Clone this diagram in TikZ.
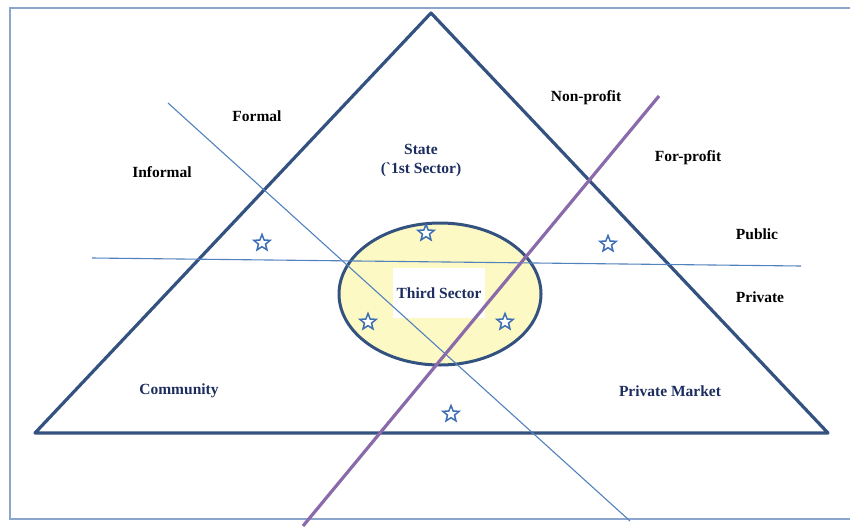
\documentclass[tikz,border=0pt]{standalone}
\usepackage{fontspec}
\setmainfont{Liberation Serif}
\usetikzlibrary{shapes.geometric}
\definecolor{pyramid}{RGB}{52,82,128}
\definecolor{divider}{RGB}{82,130,190}
\definecolor{profitline}{RGB}{138,106,170}
\definecolor{framecol}{RGB}{140,165,205}
\definecolor{thirdfill}{RGB}{252,249,196}
\definecolor{navytext}{RGB}{28,45,95}
\definecolor{starcol}{RGB}{60,110,180}
\tikzset{edge/.style={line width=3.2pt,pyramid,line join=round},
 split/.style={line width=1.1pt,divider},
 label/.style={font=\fontsize{15.5}{19}\selectfont\bfseries,align=center},
 sector/.style={label,text=navytext},
 starmark/.style={star,star points=5,star point ratio=2.3,minimum size=17pt,
  inner sep=0pt,draw=starcol,line width=1.5pt,fill=white}}

\begin{document}
\begin{tikzpicture}[x=1pt,y=-1pt]
\useasboundingbox (0,0) rectangle (850,530);
\draw[framecol,line width=1.5pt] (852,8)--(10,8)--(10,519)--(852,519);
\coordinate (A) at (431,13);
\coordinate (L) at (35,433);
\coordinate (R) at (828,433);
\coordinate (H1) at (92,258);
\coordinate (H2) at (801,266);
\coordinate (D1) at (168,103);
\coordinate (D2) at (630,521);
\coordinate (P1) at (659,96);
\coordinate (P2) at (303,526);
\draw[edge] (A)--(L)--(R)--cycle;
\draw[line width=3pt,pyramid,fill=thirdfill] (440,294) ellipse [x radius=101,y radius=71];
\node[sector,fill=white,minimum width=92pt,minimum height=50pt] (third) at (439,293) {Third Sector};
\draw[split] (H1)--(H2);
\draw[split] (D1)--(D2);
\draw[line width=3.2pt,profitline] (P1)--(P2);
% stars
\foreach \p in {(262,243),(426,233),(608,244),(368,322),(505,322),(451,414)}
 \node[starmark] at \p {};
\node[label] (formal) at (257,116) {Formal};
\node[label] (informal) at (162,172) {Informal};
\node[sector] (state) at (421,161) {State\\(\textasciigrave1st Sector)};
\node[label] (nonprofit) at (586,98) {Non-profit};
\node[label] (forprofit) at (688,158) {For-profit};
\node[label] (public) at (757,234) {Public};
\node[label] (private) at (760,297) {Private};
\node[sector] (community) at (179,391) {Community};
\node[sector] (market) at (670,391) {Private Market};
\end{tikzpicture}
\end{document}
